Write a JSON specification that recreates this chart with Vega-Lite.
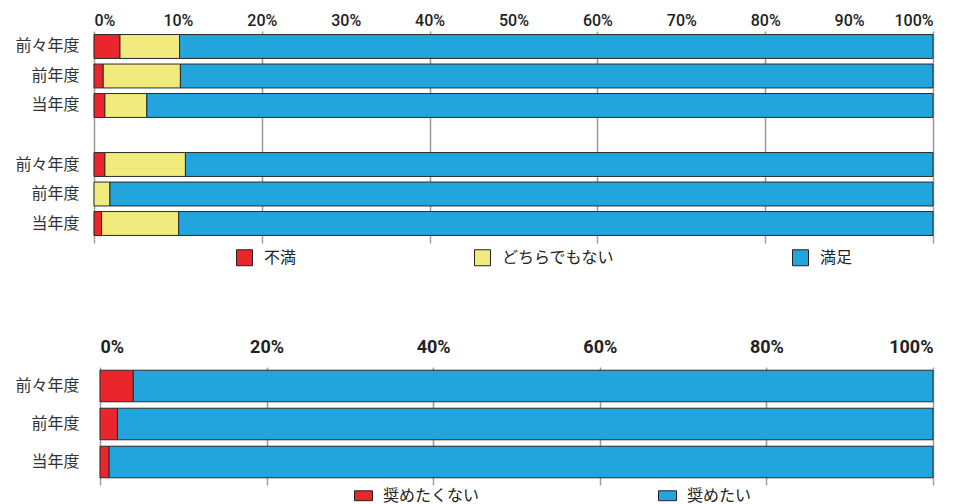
{
  "$schema": "https://vega.github.io/schema/vega-lite/v6.json",
  "background": "white",
  "padding": {"left": 14, "top": 12, "right": 5, "bottom": 0},
  "config": {"view": {"stroke": null}},
  "spacing": 70,
  "resolve": {"scale": {"color": "independent"}},
  "vconcat": [
    {
      "width": 839,
      "height": 208,
      "data": {"values": [
        {"row": "a1", "cat": "不満", "o": 1, "value": 3.1},
        {"row": "a1", "cat": "どちらでもない", "o": 2, "value": 7.1},
        {"row": "a1", "cat": "満足", "o": 3, "value": 89.8},
        {"row": "a2", "cat": "不満", "o": 1, "value": 1.1},
        {"row": "a2", "cat": "どちらでもない", "o": 2, "value": 9.2},
        {"row": "a2", "cat": "満足", "o": 3, "value": 89.7},
        {"row": "a3", "cat": "不満", "o": 1, "value": 1.3},
        {"row": "a3", "cat": "どちらでもない", "o": 2, "value": 5.0},
        {"row": "a3", "cat": "満足", "o": 3, "value": 93.7},
        {"row": "b1", "cat": "不満", "o": 1, "value": 1.3},
        {"row": "b1", "cat": "どちらでもない", "o": 2, "value": 9.6},
        {"row": "b1", "cat": "満足", "o": 3, "value": 89.1},
        {"row": "b2", "cat": "どちらでもない", "o": 2, "value": 1.9},
        {"row": "b2", "cat": "満足", "o": 3, "value": 98.1},
        {"row": "b3", "cat": "不満", "o": 1, "value": 0.9},
        {"row": "b3", "cat": "どちらでもない", "o": 2, "value": 9.2},
        {"row": "b3", "cat": "満足", "o": 3, "value": 89.9}
      ]},
      "layer": [
        {
          "mark": {"type": "bar", "stroke": "#2a2a2a", "strokeWidth": 1},
          "encoding": {
            "y": {
              "field": "row", "type": "nominal",
              "scale": {"domain": ["a1", "a2", "a3", "gap", "b1", "b2", "b3"], "paddingInner": 0.19, "paddingOuter": 0.12},
              "axis": {
                "title": null, "ticks": false, "domain": false, "labelPadding": 15,
                "labelFontSize": 16, "labelFont": "Noto Sans CJK JP", "labelColor": "#333",
                "labelExpr": "indexof(['a1','b1'], datum.value) >= 0 ? '前々年度' : indexof(['a2','b2'], datum.value) >= 0 ? '前年度' : indexof(['a3','b3'], datum.value) >= 0 ? '当年度' : ''"
              }
            },
            "x": {
              "field": "value", "type": "quantitative", "stack": "zero",
              "scale": {"domain": [0, 100], "nice": false},
              "axis": {
                "orient": "top", "values": [0, 10, 20, 30, 40, 50, 60, 70, 80, 90, 100],
                "labelExpr": "datum.value + '%'", "grid": false, "ticks": false, "domain": false,
                "title": null, "labelFontSize": 16, "labelFont": "Roboto", "labelFontWeight": 500,
                "labelPadding": 3, "labelColor": "#222"
              }
            },
            "color": {
              "field": "cat", "type": "nominal",
              "scale": {"domain": ["不満", "どちらでもない", "満足"], "range": ["#e8262b", "#f1ea7c", "#22a5dd"]},
              "legend": {
                "orient": "none", "legendX": 142, "legendY": 218, "direction": "horizontal",
                "title": null, "symbolType": "square", "symbolSize": 256,
                "symbolStrokeColor": "#222", "symbolStrokeWidth": 1,
                "labelFontSize": 16, "labelFont": "Noto Sans CJK JP", "labelColor": "#222",
                "columnPadding": 175, "labelOffset": 11, "padding": 0
              }
            },
            "order": {"field": "o", "type": "quantitative"}
          }
        },
        {
          "mark": {"type": "tick", "opacity": 0},
          "encoding": {
            "x": {
              "field": "value", "type": "quantitative",
              "axis": {
                "orient": "bottom", "values": [0, 20, 40, 60, 80, 100], "labels": false,
                "grid": true, "gridColor": "#9a9a9a", "gridWidth": 1.5,
                "ticks": true, "tickSize": 4, "tickColor": "#9a9a9a", "tickWidth": 1.5,
                "domain": false, "title": null
              }
            }
          }
        }
      ],
      "resolve": {"axis": {"x": "independent"}}
    },
    {
      "width": 839,
      "height": 114,
      "data": {"values": [
        {"row": "前々年度", "cat": "奨めたくない", "o": 1, "value": 4.0},
        {"row": "前々年度", "cat": "奨めたい", "o": 2, "value": 96.0},
        {"row": "前年度", "cat": "奨めたくない", "o": 1, "value": 2.1},
        {"row": "前年度", "cat": "奨めたい", "o": 2, "value": 97.9},
        {"row": "当年度", "cat": "奨めたくない", "o": 1, "value": 1.1},
        {"row": "当年度", "cat": "奨めたい", "o": 2, "value": 98.9}
      ]},
      "layer": [
        {
          "mark": {"type": "bar", "stroke": "#2a2a2a", "strokeWidth": 1},
          "encoding": {
            "y": {
              "field": "row", "type": "nominal",
              "scale": {"domain": ["前々年度", "前年度", "当年度"], "paddingInner": 0.17, "paddingOuter": 0.085},
              "axis": {
                "title": null, "ticks": false, "domain": false, "labelPadding": 15,
                "labelFontSize": 16, "labelFont": "Noto Sans CJK JP", "labelColor": "#333"
              }
            },
            "x": {
              "field": "value", "type": "quantitative", "stack": "zero",
              "scale": {"domain": [0, 100], "nice": false, "range": [6, 839]},
              "axis": {
                "orient": "top", "values": [0, 20, 40, 60, 80, 100],
                "labelExpr": "datum.value + '%'", "grid": false, "ticks": false, "domain": false,
                "title": null, "labelFontSize": 18, "labelFont": "Roboto", "labelFontWeight": "bold",
                "labelPadding": 11, "labelColor": "#222"
              }
            },
            "color": {
              "field": "cat", "type": "nominal",
              "scale": {"domain": ["奨めたくない", "奨めたい"], "range": ["#e8262b", "#22a5dd"]},
              "legend": {
                "orient": "none", "legendX": 260, "legendY": 119, "direction": "horizontal",
                "title": null, "symbolType": "M-1,-0.55H1V0.55H-1Z", "symbolSize": 324,
                "symbolStrokeColor": "#222", "symbolStrokeWidth": 1,
                "labelFontSize": 16, "labelFont": "Noto Sans CJK JP", "labelColor": "#222",
                "columnPadding": 176, "labelOffset": 10, "padding": 0
              }
            },
            "order": {"field": "o", "type": "quantitative"}
          }
        },
        {
          "mark": {"type": "tick", "opacity": 0},
          "encoding": {
            "x": {
              "field": "value", "type": "quantitative",
              "axis": {
                "orient": "bottom", "values": [0, 20, 40, 60, 80, 100], "labels": false,
                "grid": true, "gridColor": "#9a9a9a", "gridWidth": 1.5,
                "ticks": true, "tickSize": 4, "tickColor": "#9a9a9a", "tickWidth": 1.5,
                "domain": false, "title": null
              }
            }
          }
        }
      ],
      "resolve": {"axis": {"x": "independent"}}
    }
  ]
}
